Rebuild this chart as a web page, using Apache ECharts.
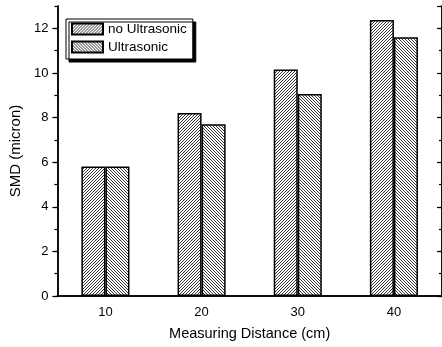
<!DOCTYPE html>
<html>
<head>
<meta charset="utf-8">
<script src="https://cdn.jsdelivr.net/npm/echarts@6/dist/echarts.min.js"></script>
<style>
  html, body { margin: 0; padding: 0; background: #fff; }
  #chart { width: 442px; height: 347px; }
</style>
</head>
<body>
<div id="chart"></div>
<script>
var distances = ['10', '20', '30', '40'];
var noUltrasonic = [5.8, 8.2, 10.15, 12.37];
var ultrasonic = [5.8, 7.7, 9.05, 11.6];

// hatch tile, dir 1 = "///", dir -1 = "\\\"
function hatch(dir) {
    var s = 3;
    var c = document.createElement('canvas');
    c.width = s; c.height = s;
    var ctx = c.getContext('2d');
    ctx.fillStyle = '#fff';
    ctx.fillRect(0, 0, s, s);
    ctx.strokeStyle = '#000';
    ctx.lineWidth = 0.8;
    ctx.beginPath();
    if (dir > 0) {
        ctx.moveTo(-1, s + 1); ctx.lineTo(s + 1, -1);
        ctx.moveTo(-1, 1); ctx.lineTo(1, -1);
        ctx.moveTo(s - 1, s + 1); ctx.lineTo(s + 1, s - 1);
    } else {
        ctx.moveTo(-1, -1); ctx.lineTo(s + 1, s + 1);
        ctx.moveTo(s - 1, -1); ctx.lineTo(s + 1, 1);
        ctx.moveTo(-1, s - 1); ctx.lineTo(1, s + 1);
    }
    ctx.stroke();
    return { image: c, repeat: 'repeat' };
}

var font = 'Liberation Sans, Arial, sans-serif';
var myChart = echarts.init(document.getElementById('chart'), null, { renderer: 'canvas' });

function yAx(pos, interval, len, inside, labels) {
    return {
        type: 'value', position: pos, min: 0, max: 13, interval: interval,
        name: labels ? 'SMD (micron)' : '', nameLocation: 'middle', nameGap: 31,
        nameTextStyle: { fontFamily: font, fontSize: 15, color: '#000' },
        axisLine: { show: true, lineStyle: { color: '#000', width: 1.5 } },
        axisTick: { show: true, inside: inside, length: len, lineStyle: { color: '#000', width: 1.2 } },
        axisLabel: { show: labels, showMaxLabel: false, margin: 9, fontFamily: font, fontSize: 13, color: '#000' },
        splitLine: { show: false }
    };
}

var option = {
    animation: false,
    backgroundColor: '#fff',
    grid: { left: 52, top: 6, width: 392, height: 290 },
    legend: {
        orient: 'vertical', left: 66, top: 19, icon: 'rect',
        padding: [3, 6, 5, 5], itemGap: 4, itemWidth: 31, itemHeight: 11,
        backgroundColor: '#fff', borderColor: '#000', borderWidth: 1,
        shadowColor: '#000', shadowBlur: 0, shadowOffsetX: 3, shadowOffsetY: 3,
        textStyle: { fontFamily: font, fontSize: 13.5, color: '#000' },
        data: ['no Ultrasonic', 'Ultrasonic']
    },
    xAxis: [
        {
            type: 'category', data: distances, position: 'bottom',
            name: 'Measuring Distance (cm)', nameLocation: 'middle', nameGap: 30,
            nameTextStyle: { fontFamily: font, fontSize: 14.5, color: '#000' },
            axisLine: { lineStyle: { color: '#000', width: 1.5 } },
            axisTick: { alignWithLabel: true, length: 5, lineStyle: { color: '#000', width: 1.2 } },
            axisLabel: { margin: 10, fontFamily: font, fontSize: 13, color: '#000' }
        },
        {
            type: 'category', data: distances, position: 'top',
            axisLine: { lineStyle: { color: '#000', width: 1.5 } },
            axisTick: { alignWithLabel: true, inside: true, length: 5, lineStyle: { color: '#000', width: 1.2 } },
            axisLabel: { show: false }
        }
    ],
    yAxis: [
        yAx('left', 2, 5, false, true),
        yAx('left', 1, 3, false, false),
        yAx('right', 2, 5, true, false),
        yAx('right', 1, 3, true, false)
    ],
    series: [
        {
            name: 'no Ultrasonic', type: 'bar', data: noUltrasonic,
            barGap: 0, barCategoryGap: '50%',
            itemStyle: { color: hatch(1), borderColor: '#000', borderWidth: 1.5 }
        },
        {
            name: 'Ultrasonic', type: 'bar', data: ultrasonic,
            barGap: 0, barCategoryGap: '50%',
            itemStyle: { color: hatch(-1), borderColor: '#000', borderWidth: 1.5 }
        }
    ]
};
myChart.setOption(option);
</script>
</body>
</html>
